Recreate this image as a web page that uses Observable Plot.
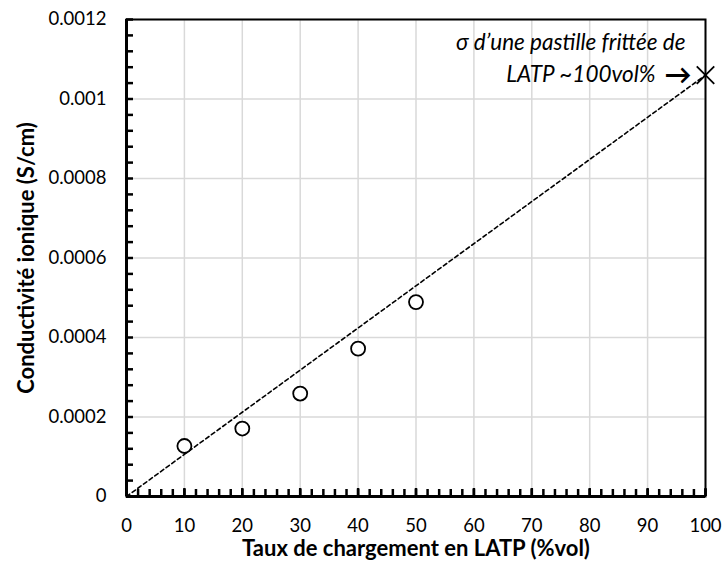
<!DOCTYPE html>
<html><head><meta charset="utf-8">
<script src="https://cdn.jsdelivr.net/npm/d3@7"></script>
<script src="https://cdn.jsdelivr.net/npm/@observablehq/plot@0.6"></script>
<style>body{margin:0;background:#fff}</style>
</head><body><div id="chart"></div>
<script>
// Data
const charge = [10, 20, 30, 40, 50];
const conductivite = [0.000127, 0.000171, 0.000259, 0.000372, 0.000489];
const pastilleX = [100];
const pastilleY = [0.00106];
const tendanceX = [0, 100];
const tendanceY = [0, 0.00106];
const xTicks = [0, 10, 20, 30, 40, 50, 60, 70, 80, 90, 100];
const yTicks = [0, 0.0002, 0.0004, 0.0006, 0.0008, 0.001, 0.0012];
const xMinor = d3.range(0, 100.001, 2);
const yMinor = d3.range(0, 0.0012001, 0.00004);
const annotLine1 = "σ d’une pastille frittée de";
const annotLine2 = "LATP ~100vol%";
const xTitle = "Taux de chargement en LATP (%vol)";
const yTitle = "Conductivité ionique (S/cm)";

const W = 728, H = 574, ML = 126, MT = 19, MR = 23, MB = 78;
const frameW = W - ML - MR, frameH = H - MT - MB;
const xPerPx = 100 / frameW, yPerPx = 0.0012 / frameH;

const points = charge.map((x, i) => ({x, y: conductivite[i]}));
const pastille = pastilleX.map((x, i) => ({x, y: pastilleY[i]}));
const tendance = tendanceX.map((x, i) => ({x, y: tendanceY[i]}));
const fmt = d => String(+d.toFixed(5));

const chart = Plot.plot({
  width: W,
  height: H,
  marginLeft: ML,
  marginTop: MT,
  marginRight: MR,
  marginBottom: MB,
  style: {fontFamily: "Lato, sans-serif", fontSize: "18px", color: "#000", background: "#fff"},
  x: {domain: [0, 100]},
  y: {domain: [0, 0.0012]},
  marks: [
    Plot.gridX(xTicks, {stroke: "#d9d9d9", strokeOpacity: 1, strokeWidth: 1.5}),
    Plot.gridY(yTicks, {stroke: "#d9d9d9", strokeOpacity: 1, strokeWidth: 1.5}),
    Plot.line(tendance, {x: "x", y: "y", stroke: "#000", strokeWidth: 1.6, strokeDasharray: "4,3"}),
    Plot.dot(points, {x: "x", y: "y", r: 7, stroke: "#000", fill: "#fff", strokeWidth: 1.8}),
    Plot.dot(pastille, {x: "x", y: "y", symbol: "times", r: 8, stroke: "#000", strokeWidth: 1.8}),
    Plot.text(pastille, {x: "x", y: "y", text: () => annotLine1, textAnchor: "end", dx: -20, dy: -32, fontStyle: "italic", fontSize: 22.5}),
    Plot.text(pastille, {x: "x", y: "y", text: () => annotLine2, textAnchor: "end", dx: -50, dy: 0, fontStyle: "italic", fontSize: 22.5}),
    Plot.text(pastille, {x: "x", y: "y", text: () => "→", textAnchor: "end", dx: -14, dy: 0, fontSize: 27, fontWeight: "bold"}),
    Plot.ruleX(xMinor, {x: d => d, y1: 0, y2: 7 * yPerPx, stroke: "#000", strokeWidth: 2.5}),
    Plot.ruleX(xTicks, {x: d => d, y1: 0, y2: 8 * yPerPx, stroke: "#000", strokeWidth: 2.5}),
    Plot.ruleY(yMinor, {y: d => d, x1: 0, x2: 7 * xPerPx, stroke: "#000", strokeWidth: 2.5}),
    Plot.axisX({ticks: xTicks, tickSize: 0, tickPadding: 22, label: null, fontSize: 18.5}),
    Plot.axisY({ticks: yTicks, tickSize: 0, tickPadding: 20, tickFormat: fmt, label: null, fontSize: 18.5}),
    Plot.frame({stroke: "#000", strokeWidth: 2}),
    Plot.ruleX([0], {stroke: "#000", strokeWidth: 3}),
    Plot.ruleY([0], {stroke: "#000", strokeWidth: 3}),
    Plot.text([xTitle], {frameAnchor: "bottom", textAnchor: "middle", lineAnchor: "middle", dy: 52, fontWeight: "bold", fontSize: 22}),
    Plot.text([yTitle], {frameAnchor: "left", textAnchor: "middle", lineAnchor: "middle", dx: -100, rotate: -90, fontWeight: "bold", fontSize: 22})
  ]
});
document.getElementById("chart").append(chart);
</script>
</body></html>
